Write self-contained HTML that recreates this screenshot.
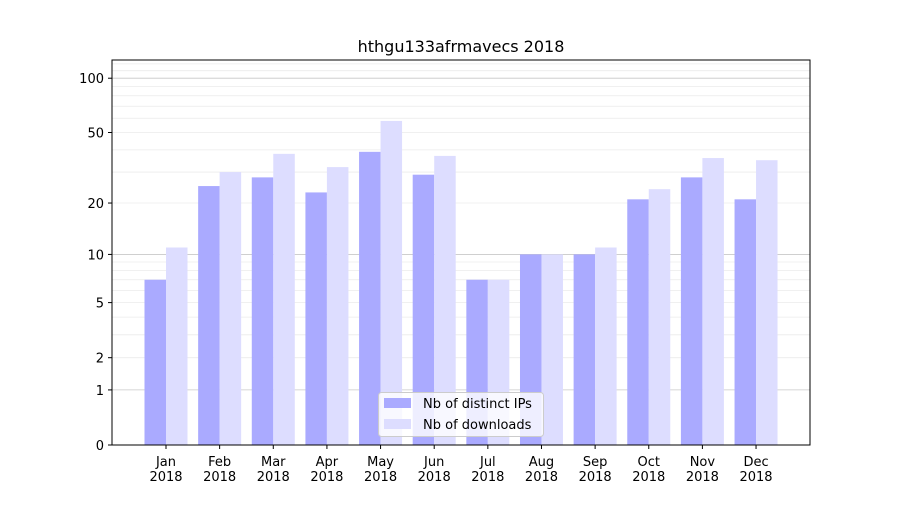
<!DOCTYPE html>
<html><head><meta charset="utf-8"><style>
body{margin:0;background:#fff;}
svg text{font-family:"DejaVu Sans","Liberation Sans",sans-serif;}
</style></head><body>
<svg id="s" width="900" height="500" xmlns="http://www.w3.org/2000/svg"></svg>
<script>
const s=document.getElementById('s');
const f=v=>445-183*Math.log10(1+v);
let h='<rect width="900" height="500" fill="#fff"/>';
h+='<text x="461" y="52" font-size="16" text-anchor="middle">hthgu133afrmavecs 2018</text>';
const minors=[2,3,4,5,6,7,8,9,20,30,40,50,60,70,80,90,110,120];
minors.forEach(v=>{h+=`<line x1="112" x2="810" y1="${f(v)}" y2="${f(v)}" stroke="#ebebeb" stroke-width="0.8"/>`});
[1,10,100].forEach(v=>{h+=`<line x1="112" x2="810" y1="${f(v)}" y2="${f(v)}" stroke="#c8c8c8" stroke-width="0.8"/>`});
const ips=[7,25,28,23,39,29,7,10,10,21,28,21];
const dl=[11,30,38,32,58,37,7,10,11,24,36,35];
const m=['Jan','Feb','Mar','Apr','May','Jun','Jul','Aug','Sep','Oct','Nov','Dec'];
for(let i=0;i<12;i++){
 const c=166+i*53.64;
 h+=`<rect x="${c-21.5}" y="${f(ips[i])}" width="21.5" height="${445-f(ips[i])}" fill="#aaaaff"/>`;
 h+=`<rect x="${c}" y="${f(dl[i])}" width="21.5" height="${445-f(dl[i])}" fill="#ddddff"/>`;
 h+=`<line x1="${c}" x2="${c}" y1="445" y2="449" stroke="#000"/>`;
 h+=`<text x="${c}" y="466" font-size="13" text-anchor="middle">${m[i]}</text><text x="${c}" y="481" font-size="13" text-anchor="middle">2018</text>`;
}
[[0,'0'],[1,'1'],[2,'2'],[5,'5'],[10,'10'],[20,'20'],[50,'50'],[100,'100']].forEach(([v,t])=>{
 h+=`<line x1="108" x2="112" y1="${f(v)}" y2="${f(v)}" stroke="#000"/><text x="104" y="${f(v)+5}" font-size="13" text-anchor="end">${t}</text>`;
});
h+='<rect x="112" y="60" width="698" height="385" fill="none" stroke="#000" stroke-width="1"/>';
h+='<rect x="378.5" y="392.5" width="165" height="44" rx="3" fill="#fff" fill-opacity="0.8" stroke="#ccc"/>';
h+='<rect x="384" y="398" width="27" height="10" fill="#aaaaff"/><text x="423" y="408" font-size="13">Nb of distinct IPs</text>';
h+='<rect x="384" y="419" width="27" height="10" fill="#ddddff"/><text x="423" y="429" font-size="13">Nb of downloads</text>';
s.innerHTML=h;
</script>
</body></html>
